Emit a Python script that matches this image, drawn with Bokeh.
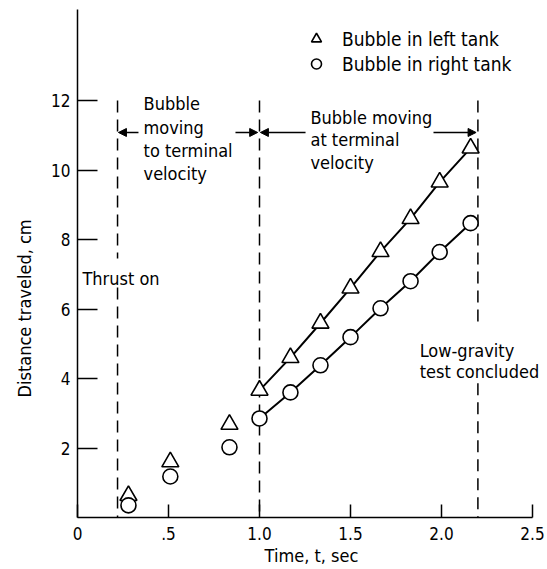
import math
from bokeh.plotting import figure
from bokeh.models import (Range1d, FixedTicker, Label, Arrow, NormalHead, Legend,
                          LegendItem, Title)
from bokeh.embed import file_html
from bokeh.resources import INLINE

# ---- data ----
time_pts = [0.28, 0.51, 0.835, 1.0, 1.17, 1.335, 1.5, 1.665, 1.83, 1.99, 2.16]
dist_left = [0.63, 1.6, 2.68, 3.66, 4.6, 5.59, 6.6, 7.65, 8.6, 9.65, 10.63]
dist_right = [0.35, 1.18, 2.02, 2.85, 3.6, 4.38, 5.19, 6.02, 6.8, 7.64, 8.47]
terminal_start = 3  # index where terminal-velocity fit lines begin

x_ticks = [0, 0.5, 1.0, 1.5, 2.0, 2.5]
x_tick_labels = ["0", ".5", "1.0", "1.5", "2.0", "2.5"]
y_ticks = [2, 4, 6, 8, 10, 12]
y_tick_labels = ["2", "4", "6", "8", "10", "12"]

thrust_on_t = 0.22
terminal_t = 1.0
concluded_t = 2.2

FONT = "DejaVu Sans Condensed, DejaVu Sans"
FS = "18px"

W, H = 545, 568
p = figure(width=W, height=H, output_backend="svg", toolbar_location=None,
           x_range=Range1d(0, (W - 77) / 182.0), y_range=Range1d(0, 517 / 34.75),
           min_border_left=77, min_border_right=0, min_border_top=0,
           min_border_bottom=H - 517)
p.outline_line_color = None
p.xgrid.grid_line_color = None
p.ygrid.grid_line_color = None
p.background_fill_color = "white"

xa = p.xaxis[0]
ya = p.yaxis[0]
for ax in (xa, ya):
    ax.axis_line_width = 1.5
    ax.major_tick_line_width = 1.5
    ax.minor_tick_line_color = None
    ax.major_tick_out = 0
    ax.major_label_text_font = FONT
    ax.major_label_text_font_size = "17px"
    ax.major_label_text_color = "black"
    ax.axis_line_color = "black"
    ax.major_tick_line_color = "black"
    ax.axis_label_text_font = FONT
    ax.axis_label_text_font_size = "18px"
    ax.axis_label_text_font_style = "normal"
    ax.axis_label_text_color = "black"

xa.bounds = (0, 2.5)
xa.ticker = FixedTicker(ticks=x_ticks)
xa.major_label_overrides = {t: l for t, l in zip(x_ticks, x_tick_labels)}
xa.major_tick_in = 13
xa.major_label_standoff = 9
xa.axis_label = "Time, t, sec"
xa.axis_label_standoff = 2

ya.bounds = (0, 14.62)
ya.ticker = FixedTicker(ticks=y_ticks)
ya.major_label_overrides = {t: l for t, l in zip(y_ticks, y_tick_labels)}
ya.major_tick_in = 20
ya.major_label_standoff = 7

# y-axis title, placed low along the axis as in the original
p.add_layout(Title(text="Distance traveled, cm", align="left", offset=120, standoff=24,
                   vertical_align="top",
                   text_font=FONT, text_font_size="18px", text_font_style="normal",
                   text_color="black"), "left")

# dashed vertical lines (segments with gaps for text)
dash = "12 7"
p.segment(x0=[thrust_on_t, thrust_on_t], y0=[12, 6.62], x1=[thrust_on_t, thrust_on_t],
          y1=[7.45, 0], line_color="black", line_width=1.5, line_dash=dash)
p.segment(x0=[terminal_t], y0=[12], x1=[terminal_t], y1=[0],
          line_color="black", line_width=1.5, line_dash=dash)
p.segment(x0=[concluded_t, concluded_t], y0=[12, 3.86], x1=[concluded_t, concluded_t],
          y1=[5.58, 0], line_color="black", line_width=1.5, line_dash=dash)

# fitted lines through terminal phase
p.line(time_pts[terminal_start:], dist_left[terminal_start:], line_color="black", line_width=2)
p.line(time_pts[terminal_start:], dist_right[terminal_start:], line_color="black", line_width=2)

r_left = p.scatter(time_pts, dist_left, marker="triangle", size=17, fill_color="white",
                   line_color="black", line_width=1.6)
r_right = p.scatter(time_pts, dist_right, marker="circle", size=15, fill_color="white",
                    line_color="black", line_width=1.6)

legend = Legend(items=[LegendItem(label="Bubble in left tank", renderers=[r_left]),
                       LegendItem(label="Bubble in right tank", renderers=[r_right])],
                location=(224, 441), border_line_color=None, background_fill_alpha=0,
                label_text_font=FONT, label_text_font_size="19px",
                label_text_color="black", glyph_height=25,
                glyph_width=30, spacing=0, padding=0, margin=0, label_standoff=11,
                label_height=25)
p.add_layout(legend)

def add_text(x, y, txt, **kw):
    p.add_layout(Label(x=x, y=y, text=txt, text_font=FONT, text_font_size=FS,
                       text_color="black", **kw))

for yy, txt in zip([11.91, 11.22, 10.56, 9.90], ["Bubble", "moving", "to terminal", "velocity"]):
    add_text(0.363, yy, txt, text_baseline="alphabetic")
for yy, txt in zip([11.51, 10.88, 10.22], ["Bubble moving", "at terminal", "velocity"]):
    add_text(1.28, yy, txt, text_baseline="alphabetic")
for yy, txt in zip([4.81, 4.20], ["Low-gravity", "test concluded"]):
    add_text(1.88, yy, txt, text_baseline="alphabetic")
add_text(0.027, 6.88, "Thrust on", text_baseline="alphabetic")

# arrows
for xs, xe in [(0.335, 0.225), (0.868, 0.99), (1.253, 1.005), (1.956, 2.19)]:
    p.add_layout(Arrow(end=NormalHead(size=8, fill_color="black", line_color="black"),
                       x_start=xs, y_start=11.08, x_end=xe, y_end=11.08,
                       line_width=1.5, line_color="black"))

open("out.html", "w").write(file_html(p, INLINE))
